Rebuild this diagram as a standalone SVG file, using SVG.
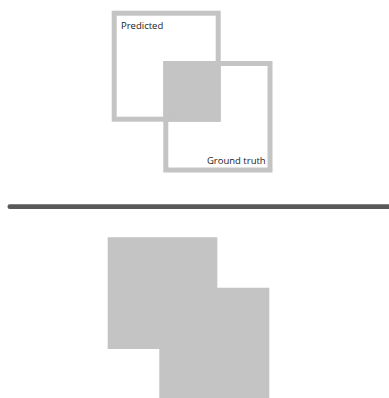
<svg xmlns="http://www.w3.org/2000/svg" width="389" height="398" viewBox="0 0 389 398">
<style>
.box{fill:none;stroke:#c4c4c4;stroke-width:5}
.fill{fill:#c4c4c4}
.lbl{font-family:"Open Sans","Noto Sans",sans-serif;font-size:9.5px;fill:#222}
</style>
<rect width="389" height="398" fill="#fff"/>
<g id="intersection"><rect class="fill" x="163.3" y="61" width="57.4" height="60.7"/></g>
<g id="predicted">
<rect class="box" x="114.2" y="13.2" width="104" height="106"/>
<text class="lbl" x="121" y="28.5">Predicted</text>
</g>
<g id="ground-truth">
<rect class="box" x="165.8" y="63.5" width="104.2" height="106.5"/>
<text class="lbl" x="265.7" y="164.3" text-anchor="end">Ground truth</text>
</g>
<g id="connectors">
<line x1="9.8" y1="206.7" x2="392" y2="206.7" stroke="#595959" stroke-width="4.7" stroke-linecap="round"/>
</g>
<g id="union">
<path class="fill" d="M107.7 237.3H217.3V287.7H269.3V398H159.3V349H107.7Z"/>
</g>
</svg>
